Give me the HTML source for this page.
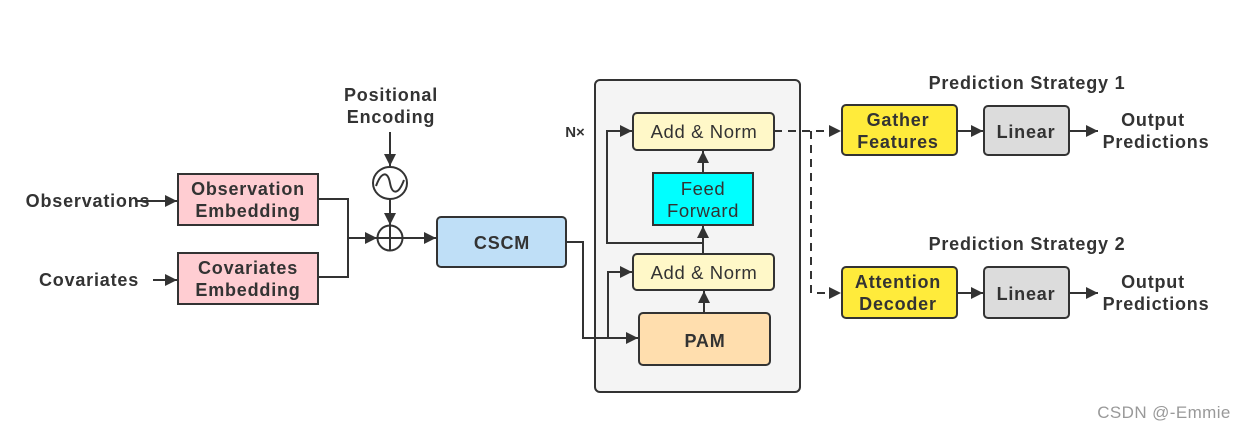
<!DOCTYPE html>
<html><head><meta charset="utf-8"><style>
html,body{margin:0;padding:0;background:#fff}
svg{display:block}
text{font-family:"Liberation Sans","DejaVu Sans",sans-serif;fill:#333}
.b{font-weight:bold;font-size:18px;letter-spacing:0.8px}
.n{font-size:18.5px;letter-spacing:0.6px}
</style></head><body>
<svg width="1247" height="428" viewBox="0 0 1247 428" xmlns="http://www.w3.org/2000/svg">
<defs>
<marker id="a" viewBox="0 0 10 10" refX="10" refY="5" markerWidth="12" markerHeight="12" markerUnits="userSpaceOnUse" orient="auto"><path d="M0,0L10,5L0,10z" fill="#333"/></marker>
</defs>
<g stroke="#333" stroke-width="2" fill="none">
<rect x="595" y="80" width="205" height="312" rx="5" fill="#f4f4f4"/>
</g>
<g stroke="#333" stroke-width="2">
<rect x="178" y="174" width="140" height="51" fill="#ffcdd2"/>
<rect x="178" y="253" width="140" height="51" fill="#ffcdd2"/>
<rect x="437" y="217" width="129" height="50" rx="4" fill="#bfdff7"/>
<rect x="633" y="113" width="141" height="37" rx="4" fill="#fff8c8"/>
<rect x="653" y="173" width="100" height="52" fill="#00ffff"/>
<rect x="633" y="254" width="141" height="36" rx="4" fill="#fff8c8"/>
<rect x="639" y="313" width="131" height="52" rx="4" fill="#ffdeae"/>
<rect x="842" y="105" width="115" height="50" rx="4" fill="#ffeb3b"/>
<rect x="842" y="267" width="115" height="51" rx="4" fill="#ffeb3b"/>
<rect x="984" y="106" width="85" height="49" rx="4" fill="#dcdcdc"/>
<rect x="984" y="267" width="85" height="51" rx="4" fill="#dcdcdc"/>
</g>
<g stroke="#333" stroke-width="2" fill="none">
<line x1="135" y1="201" x2="177" y2="201" marker-end="url(#a)"/>
<line x1="153" y1="280" x2="177" y2="280" marker-end="url(#a)"/>
<polyline points="318,199 348,199 348,277 318,277"/>
<line x1="348" y1="238" x2="377" y2="238" marker-end="url(#a)"/>
<line x1="390" y1="132" x2="390" y2="166" marker-end="url(#a)"/>
<line x1="390" y1="199" x2="390" y2="225" marker-end="url(#a)"/>
<line x1="403" y1="238" x2="436" y2="238" marker-end="url(#a)"/>
<ellipse cx="390" cy="183" rx="17" ry="16"/>
<path d="M376,186 C382,170 388,172 390,183 C392,194 398,196 404,180"/>
<circle cx="390" cy="238" r="12.5"/>
<line x1="377.5" y1="238" x2="402.5" y2="238"/>
<line x1="390" y1="225.5" x2="390" y2="250.5"/>
<polyline points="566,242 583,242 583,338 638,338" marker-end="url(#a)"/>
<polyline points="608,338 608,272 632,272" marker-end="url(#a)"/>
<polyline points="703,243 607,243 607,131 632,131" marker-end="url(#a)"/>
<line x1="703" y1="254" x2="703" y2="226" marker-end="url(#a)"/>
<line x1="704" y1="313" x2="704" y2="291" marker-end="url(#a)"/>
<line x1="703" y1="173" x2="703" y2="151" marker-end="url(#a)"/>
<line x1="957" y1="131" x2="983" y2="131" marker-end="url(#a)"/>
<line x1="957" y1="293" x2="983" y2="293" marker-end="url(#a)"/>
<line x1="1069" y1="131" x2="1098" y2="131" marker-end="url(#a)"/>
<line x1="1069" y1="293" x2="1098" y2="293" marker-end="url(#a)"/>
<g stroke-dasharray="8,6">
<line x1="774" y1="131" x2="841" y2="131" marker-end="url(#a)"/>
<polyline points="811,131 811,293 841,293" marker-end="url(#a)"/>
</g>
</g>
<g text-anchor="middle">
<text class="b" x="88" y="207">Observations</text>
<text class="b" x="89" y="286">Covariates</text>
<text class="b" x="248" y="195">Observation</text>
<text class="b" x="248" y="217">Embedding</text>
<text class="b" x="248" y="274">Covariates</text>
<text class="b" x="248" y="296">Embedding</text>
<text class="b" x="391" y="101">Positional</text>
<text class="b" x="391" y="123">Encoding</text>
<text class="b" x="502" y="249">CSCM</text>
<text class="b" x="575" y="137" style="font-size:15px;letter-spacing:0">N×</text>
<text class="n" x="704" y="138">Add &amp; Norm</text>
<text class="n" x="703" y="195">Feed</text>
<text class="n" x="703" y="217">Forward</text>
<text class="n" x="704" y="279">Add &amp; Norm</text>
<text class="b" x="705" y="347">PAM</text>
<text class="b" x="1027" y="89">Prediction Strategy 1</text>
<text class="b" x="1027" y="250">Prediction Strategy 2</text>
<text class="b" x="898" y="126">Gather</text>
<text class="b" x="898" y="148">Features</text>
<text class="b" x="898" y="288">Attention</text>
<text class="b" x="898" y="310">Decoder</text>
<text class="b" x="1026" y="138">Linear</text>
<text class="b" x="1026" y="300">Linear</text>
<text class="b" x="1153" y="126">Output</text>
<text class="b" x="1156" y="148">Predictions</text>
<text class="b" x="1153" y="288">Output</text>
<text class="b" x="1156" y="310">Predictions</text>
<text x="1164" y="418" style="font-size:17px;letter-spacing:0.4px;fill:#999">CSDN @-Emmie</text>
</g>
</svg>
</body></html>
